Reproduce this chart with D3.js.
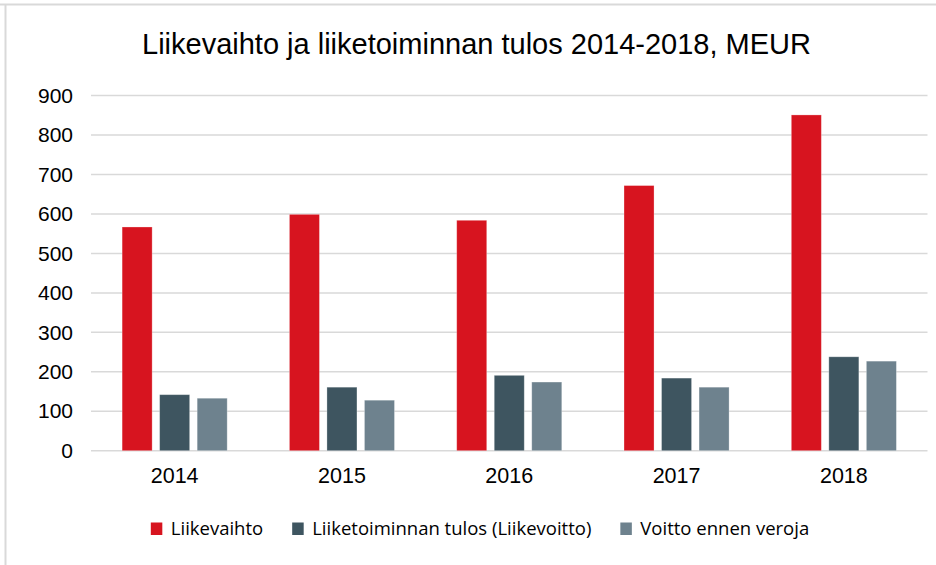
<!DOCTYPE html>
<html>
<head>
<meta charset="utf-8">
<script src="https://cdn.jsdelivr.net/npm/d3@7"></script>
<style>
  body { margin: 0; background: #fff; }
  svg { display: block; }
</style>
</head>
<body>
<svg id="chart"></svg>
<script>
var years = ["2014", "2015", "2016", "2017", "2018"];
var seriesNames = ["Liikevaihto", "Liiketoiminnan tulos (Liikevoitto)", "Voitto ennen veroja"];
var liikevaihto = [567, 599, 584, 672, 851];
var liikevoitto = [142, 161, 191, 184, 238];
var voittoEnnenVeroja = [133, 128, 174, 161, 227];
var yTicks = [0, 100, 200, 300, 400, 500, 600, 700, 800, 900];
var colors = ["#d7141f", "#3e5560", "#6e828e"];

var width = 936, height = 565;
var svg = d3.select("#chart").attr("width", width).attr("height", height);

var plot = {left: 91, right: 927.5, top: 95.6, bottom: 450.7};

// frame of the chart box (only top and left edges show)
svg.append("line").attr("x1", 0).attr("x2", width).attr("y1", 4.5).attr("y2", 4.5)
    .attr("stroke", "#d9d9d9").attr("stroke-width", 2);
svg.append("line").attr("x1", 5.5).attr("x2", 5.5).attr("y1", 4.5).attr("y2", height)
    .attr("stroke", "#d9d9d9").attr("stroke-width", 2);

svg.append("text")
    .attr("x", 476.5).attr("y", 54)
    .attr("text-anchor", "middle")
    .style("font-family", "'Liberation Sans', Arial, sans-serif")
    .style("font-size", "29px")
    .style("fill", "#000")
    .text("Liikevaihto ja liiketoiminnan tulos 2014-2018, MEUR");

var yScale = d3.scaleLinear().domain([0, 900]).range([plot.bottom, plot.top]);

var x0 = d3.scaleBand().domain(years).range([plot.left, plot.right])
    .paddingInner(0.372).paddingOuter(0.186);
var x1 = d3.scaleBand().domain(seriesNames).range([0, x0.bandwidth()])
    .paddingInner(0.2).paddingOuter(0);

// gridlines
svg.append("g").selectAll("line").data(yTicks).enter().append("line")
    .attr("x1", plot.left).attr("x2", plot.right)
    .attr("y1", function (d) { return yScale(d); })
    .attr("y2", function (d) { return yScale(d); })
    .attr("stroke", "#d9d9d9").attr("stroke-width", 1.5);

// y axis labels
var yAxis = d3.axisLeft(yScale).tickValues(yTicks).tickSize(0).tickPadding(18);
var yg = svg.append("g").attr("transform", "translate(" + plot.left + ",0)").call(yAxis);
yg.select(".domain").remove();
yg.selectAll("text")
    .style("font-family", "'Liberation Sans', Arial, sans-serif")
    .style("font-size", "21px").style("fill", "#000");

var rows = years.map(function (y, i) {
    return {year: y, values: [liikevaihto[i], liikevoitto[i], voittoEnnenVeroja[i]]};
});

var groups = svg.append("g").selectAll("g").data(rows).enter().append("g")
    .attr("transform", function (d) { return "translate(" + x0(d.year) + ",0)"; });

groups.selectAll("rect")
    .data(function (d) {
        return d.values.map(function (v, k) { return {name: seriesNames[k], value: v, k: k}; });
    })
    .enter().append("rect")
    .attr("x", function (d) { return x1(d.name); })
    .attr("y", function (d) { return yScale(d.value); })
    .attr("width", x1.bandwidth())
    .attr("height", function (d) { return yScale(0) - yScale(d.value); })
    .attr("fill", function (d) { return colors[d.k]; })
    .attr("stroke", "#ffffff").attr("stroke-opacity", 0.35).attr("stroke-width", 0.8);

// x axis labels
var xAxis = d3.axisBottom(x0).tickSize(0).tickPadding(17);
var xg = svg.append("g").attr("transform", "translate(0," + plot.bottom + ")").call(xAxis);
xg.select(".domain").remove();
xg.selectAll("text")
    .style("font-family", "'Liberation Sans', Arial, sans-serif")
    .style("font-size", "21.5px").style("fill", "#000");

// legend
var legend = svg.append("g");
var items = legend.selectAll("g").data(seriesNames).enter().append("g");
items.append("rect")
    .attr("width", 11.5).attr("height", 12.5).attr("y", -12.5)
    .attr("fill", function (d, i) { return colors[i]; });
items.append("text")
    .attr("x", 20).attr("y", 0)
    .style("font-family", "'Open Sans', 'Noto Sans', sans-serif")
    .style("font-size", "18.5px").style("fill", "#000")
    .text(function (d) { return d; });

var pos = 0, offsets = [];
items.each(function () {
    offsets.push(pos);
    pos += 20 + d3.select(this).select("text").node().getComputedTextLength() + 29;
});
var total = pos - 29;
var startX = 480 - total / 2;
items.attr("transform", function (d, i) { return "translate(" + (startX + offsets[i]) + ",535)"; });
</script>
</body>
</html>
